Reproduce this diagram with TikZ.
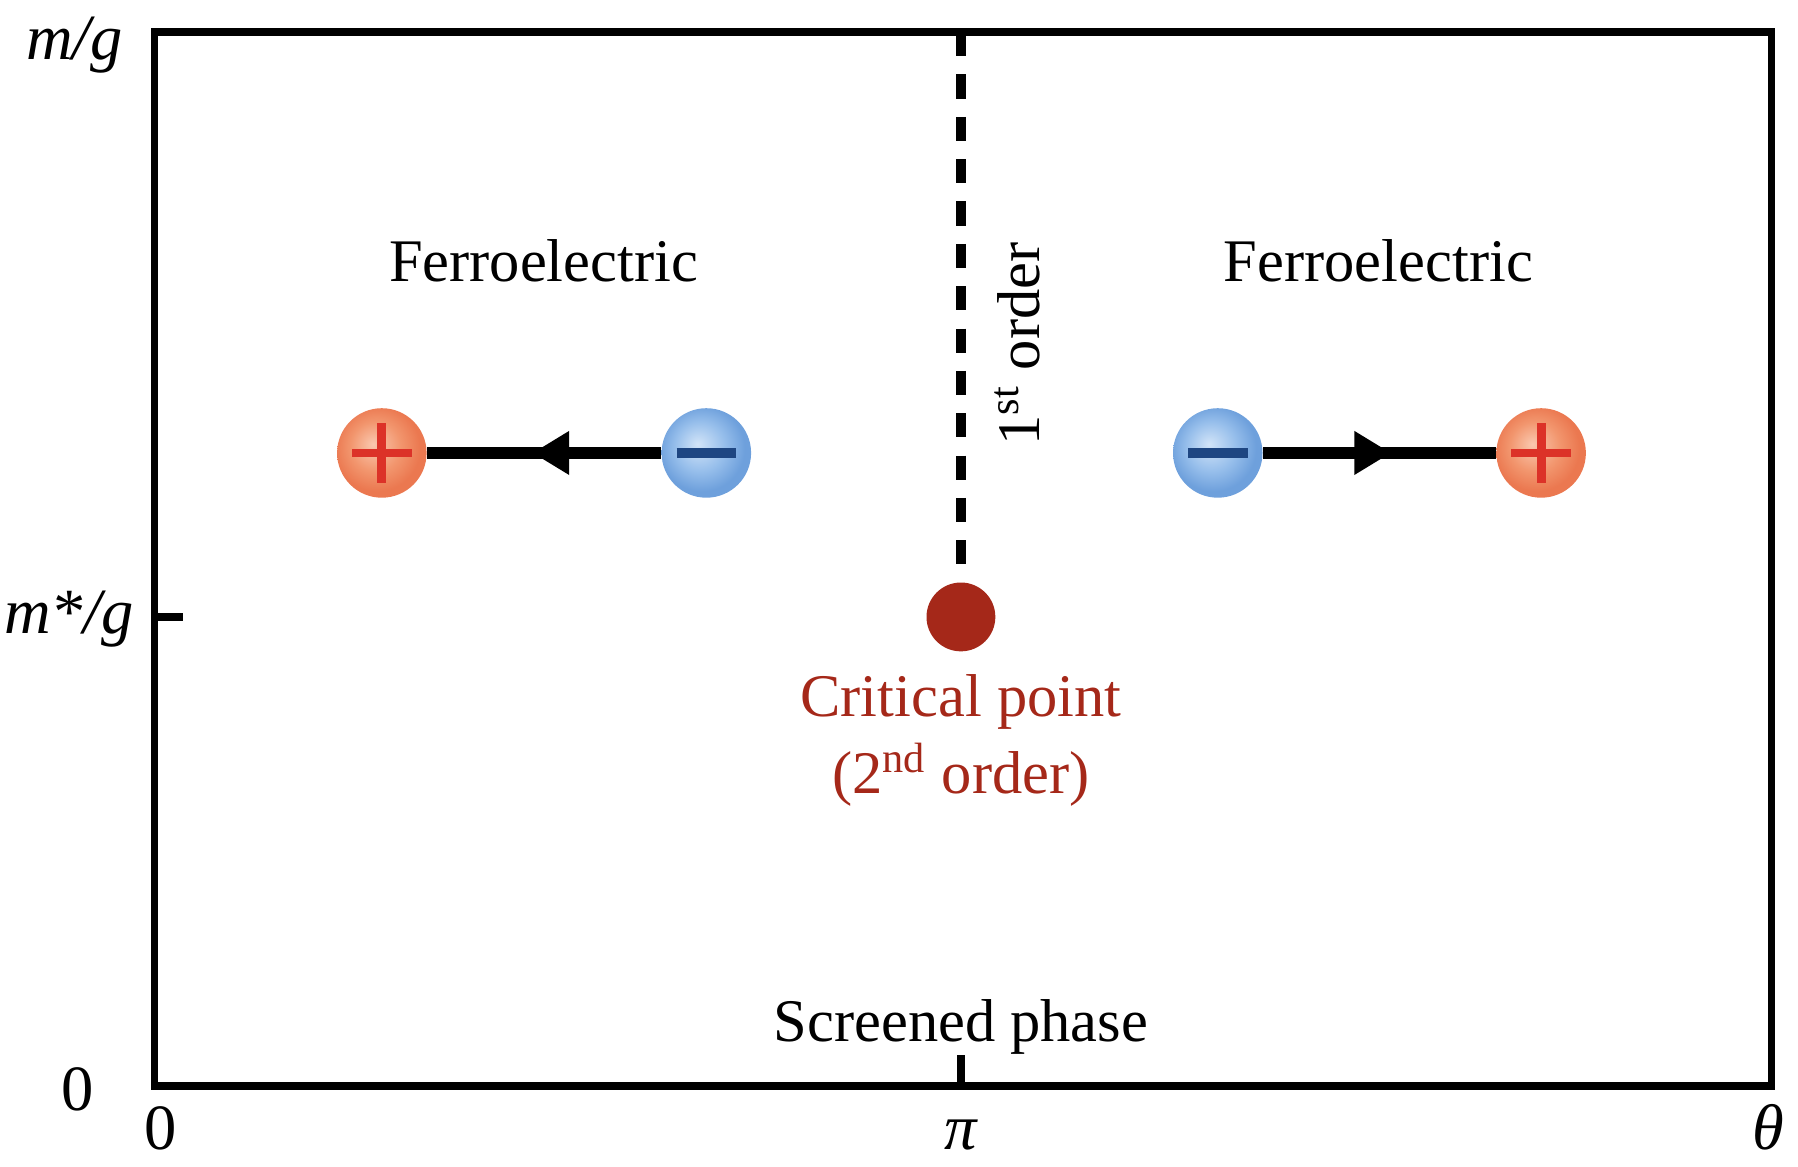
\documentclass[tikz,border=0pt]{standalone}
\usepackage{fontspec}
\setmainfont{Liberation Serif}
\usetikzlibrary{arrows.meta,decorations.markings}
\definecolor{crit}{RGB}{165,40,25}
\definecolor{plusc}{RGB}{220,50,40}
\definecolor{minusc}{RGB}{30,70,130}
\definecolor{pin}{RGB}{250,200,175}
\definecolor{pmid}{RGB}{242,150,110}
\definecolor{pout}{RGB}{235,120,80}
\definecolor{nin}{RGB}{210,228,248}
\definecolor{nmid}{RGB}{150,190,235}
\definecolor{nout}{RGB}{110,160,220}
\pgfdeclareradialshading{posball}{\pgfpoint{-5bp}{5bp}}{color(0bp)=(pin); color(14bp)=(pmid); color(24bp)=(pout); color(50bp)=(pout)}
\pgfdeclareradialshading{negball}{\pgfpoint{-5bp}{5bp}}{color(0bp)=(nin); color(14bp)=(nmid); color(24bp)=(nout); color(50bp)=(nout)}
\tikzset{
  lbl/.style={font=\fontsize{15}{18}\selectfont},
  axl/.style={font=\fontsize{16}{19}\selectfont\itshape},
  pcharge/.style={circle,minimum size=0.78cm,inner sep=0pt,shading=posball},
  ncharge/.style={circle,minimum size=0.78cm,inner sep=0pt,shading=negball},
  dip/.style={line width=3pt,decoration={markings,mark=at position 0.55 with {\arrow{Triangle[length=0.32cm,width=0.36cm]}}},postaction={decorate}}
}
\begin{document}
\begin{tikzpicture}[x=0.01cm,y=-0.01cm]
\useasboundingbox (0,0) rectangle (1568,1017);
\draw[line width=1.8pt] (135,28) rectangle (1545,947);
\coordinate (mtick) at (135,538);
\coordinate (mtickend) at (160,538);
\draw[line width=1.8pt] (mtick) -- (mtickend);
\coordinate (ptick) at (838,947);
\coordinate (ptickend) at (838,920);
\draw[line width=1.8pt] (ptick) -- (ptickend);
\node[circle,fill=crit,minimum size=0.6cm,inner sep=0pt] (cp) at (838,538) {};
\coordinate (top) at (838,28);
\draw[line width=2.4pt,dash pattern=on 6pt off 4.5pt] (top) -- (838,495);
\node[axl,anchor=north] at (65,2) {m/g};
\node[axl] at (60,540) {m*/g};
\node[lbl,font=\fontsize{16}{19}\selectfont] at (68,950) {0};
\node[lbl,font=\fontsize{16}{19}\selectfont,anchor=south] at (140,1015) {0};
\node[axl,anchor=south] at (838,1015) {π};
\node[axl,anchor=south east] at (1568,1015) {θ};
\node[lbl] at (474,227) {Ferroelectric};
\node[lbl] at (1202,227) {Ferroelectric};
\node[lbl,rotate=90] at (887,300) {1\textsuperscript{st} order};
\node[lbl,text=crit] at (838,612) {Critical point};
\node[lbl,text=crit] at (838,676) {(2\textsuperscript{nd} order)};
\node[lbl] at (838,896) {Screened phase};
\node[pcharge] (p1) at (333,395) {};
\node[ncharge] (n1) at (616,395) {};
\node[ncharge] (n2) at (1062,395) {};
\node[pcharge] (p2) at (1344,395) {};
\draw[dip] (n1) -- (p1);
\draw[dip] (n2) -- (p2);
\foreach \p in {p1,p2}{
  \draw[plusc,line width=2.2pt] ([xshift=-0.26cm]\p.center) -- ([xshift=0.26cm]\p.center);
  \draw[plusc,line width=2.2pt] ([yshift=-0.26cm]\p.center) -- ([yshift=0.26cm]\p.center);}
\foreach \n in {n1,n2}{
  \draw[minusc,line width=2.4pt] ([xshift=-0.26cm]\n.center) -- ([xshift=0.26cm]\n.center);}
\end{tikzpicture}
\end{document}
